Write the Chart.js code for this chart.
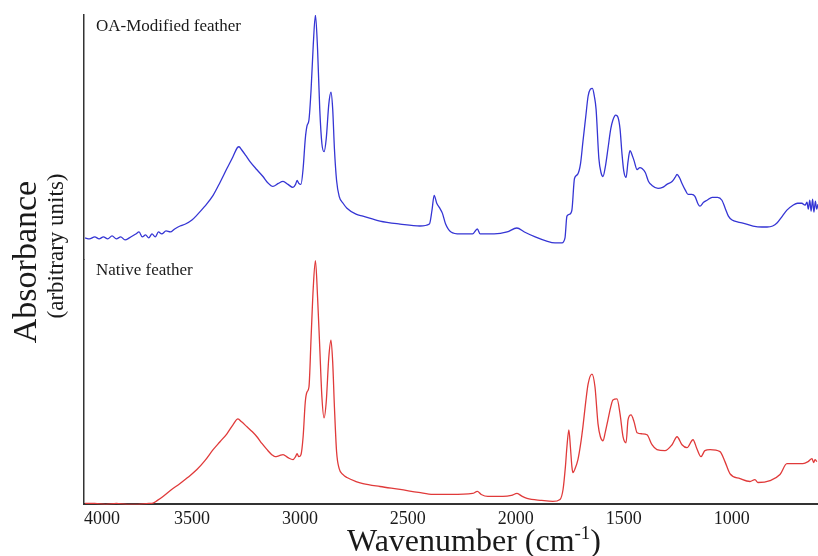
<!DOCTYPE html>
<html>
<head>
<meta charset="utf-8">
<title>FTIR spectra of feather</title>
<script src="https://cdn.jsdelivr.net/npm/chart.js@4.4.1/dist/chart.umd.min.js"></script>
<style>
  html, body { margin: 0; padding: 0; background: #fff; }
  #wrap { width: 818px; height: 556px; position: relative; }
</style>
</head>
<body>
<div id="wrap"><canvas id="ftirChart"></canvas></div>
<script>
// OA-modified feather, upper trace (wavenumber cm-1 / absorbance, arbitrary units)
const modifiedWn = [
  3995, 3975, 3950, 3930, 3910, 3890, 3870, 3850, 3830, 3810, 3790, 3760, 3745, 3730, 3715, 3700,
  3685, 3670, 3655, 3640, 3620, 3600, 3580, 3555, 3530, 3500, 3477, 3440, 3402, 3370, 3338, 3310,
  3290, 3282, 3270, 3250, 3231, 3200, 3171, 3150, 3125, 3100, 3078, 3055, 3032, 3020, 3013, 3005,
  2995, 2985, 2975, 2967, 2958, 2948, 2938, 2928, 2918, 2908, 2898, 2888, 2878, 2866, 2856, 2848,
  2840, 2830, 2818, 2800, 2782, 2740, 2708, 2629, 2536, 2444, 2400, 2388, 2378, 2366, 2352, 2340,
  2325, 2300, 2258, 2200, 2178, 2165, 2100, 2040, 1995, 1960, 1910, 1860, 1818, 1786, 1772, 1763,
  1750, 1740, 1728, 1714, 1700, 1689, 1676, 1665, 1655, 1645, 1636, 1628, 1615, 1604, 1596, 1585,
  1573, 1560, 1550, 1537, 1527, 1517, 1508, 1500, 1489, 1480, 1471, 1460, 1452, 1438, 1425, 1415,
  1400, 1385, 1369, 1341, 1320, 1300, 1276, 1262, 1253, 1242, 1230, 1214, 1202, 1185, 1170, 1155,
  1147, 1130, 1114, 1090, 1065, 1045, 1030, 1015, 998, 970, 948, 901, 860, 836, 810, 790,
  765, 744, 716, 695, 675, 660, 651, 645, 638, 632, 625, 619, 612, 606, 600
];
const modifiedAbs = [
  22, 21, 23, 21, 23, 21, 24, 21, 23, 20, 22, 26, 28, 23, 25, 22,
  26, 23, 28, 26, 29, 28, 31, 34, 36, 40, 45, 54, 65, 78, 92, 104,
  113, 114, 111, 105, 99, 91, 84, 78, 74, 77, 79, 76, 73, 76, 80, 77,
  76, 92, 122, 135, 141, 172, 217, 247, 212, 152, 117, 109, 122, 157, 169, 152,
  112, 80, 64, 57, 52, 46, 44, 39, 36, 34, 36, 50, 65, 57, 52, 47,
  36, 28, 26, 26, 31, 26, 26, 28, 32, 28, 23, 19, 17, 17, 22, 44,
  46, 50, 82, 86, 97, 119, 144, 165, 172, 173, 165, 152, 102, 87, 84, 94,
  112, 132, 141, 146, 144, 132, 107, 90, 83, 99, 110, 105, 100, 91, 93, 92,
  88, 79, 75, 72, 73, 76, 79, 83, 86, 83, 77, 70, 66, 66, 64, 56,
  54, 58, 60, 63, 63, 60, 52, 44, 40, 38, 37, 34, 33, 33, 34, 37,
  44, 50, 55, 57, 57, 55, 58, 51, 60, 49, 61, 48, 59, 51, 56
];

// Native feather, lower trace
const nativeWn = [
  3995, 3950, 3900, 3850, 3800, 3750, 3700, 3685, 3660, 3634, 3600, 3555, 3520, 3477, 3440, 3402,
  3370, 3338, 3310, 3287, 3270, 3245, 3220, 3199, 3175, 3152, 3130, 3115, 3095, 3078, 3055, 3032,
  3020, 3013, 3005, 2995, 2985, 2975, 2967, 2958, 2948, 2938, 2928, 2918, 2908, 2898, 2888, 2878,
  2866, 2856, 2848, 2840, 2830, 2818, 2800, 2782, 2740, 2708, 2629, 2536, 2450, 2383, 2300, 2200,
  2178, 2160, 2129, 2060, 2020, 1994, 1970, 1948, 1880, 1828, 1795, 1781, 1770, 1763, 1754, 1747,
  1740, 1735, 1725, 1712, 1700, 1689, 1676, 1665, 1647, 1633, 1619, 1608, 1596, 1585, 1573, 1560,
  1550, 1531, 1517, 1503, 1489, 1480, 1466, 1452, 1438, 1415, 1392, 1369, 1346, 1309, 1276, 1253,
  1230, 1207, 1179, 1161, 1142, 1124, 1100, 1054, 1031, 1008, 961, 915, 892, 878, 822, 776,
  744, 716, 670, 646, 628, 620, 614, 605
];
const nativeAbs = [
  1, 1, 0, 1, 0, 0, 1, 1, 4, 8, 14, 21, 27, 35, 44, 55,
  63, 71, 80, 86, 83, 78, 73, 68, 61, 55, 50, 48, 49, 50, 47, 45,
  48, 51, 48, 50, 68, 103, 113, 118, 168, 218, 245, 208, 158, 108, 87, 103,
  148, 165, 143, 98, 53, 36, 30, 27, 23, 21, 18, 15, 12, 10, 10, 11,
  13, 10, 8, 8, 9, 11, 8, 6, 4, 3, 5, 15, 38, 58, 75, 58,
  38, 32, 36, 45, 60, 78, 103, 121, 131, 118, 81, 68, 64, 73, 85, 98,
  105, 106, 91, 68, 62, 85, 90, 83, 72, 71, 70, 60, 55, 54, 60, 68,
  60, 57, 65, 56, 48, 54, 55, 53, 43, 31, 26, 23, 25, 22, 24, 30,
  41, 41, 41, 43, 46, 42, 45, 43
];

const wnTicks = [1000, 1500, 2000, 2500, 3000, 3500, 4000];
const wnMin = 600;
const wnMax = 4000;
const topMax = 247;
const bottomMax = 246;

const serif = '"Liberation Serif", "Times New Roman", serif';
const ink = '#1a1a1a';

function toPoints(xs, ys) {
  return xs.map((x, i) => ({ x: x, y: ys[i] }));
}

// titles and trace captions
const spectraText = {
  id: 'spectraText',
  afterDraw(chart) {
    const ctx = chart.ctx;
    const area = chart.chartArea;
    const yTop = chart.scales.yTop;
    const yBottom = chart.scales.yBottom;
    ctx.save();
    ctx.fillStyle = ink;
    ctx.textAlign = 'left';
    ctx.textBaseline = 'alphabetic';
    ctx.font = '17px ' + serif;
    ctx.fillText('OA-Modified feather', area.left + 12, yTop.top + 16);
    ctx.fillText('Native feather', area.left + 12, yBottom.top + 15);

    // y axis title, two lines of different size
    ctx.save();
    ctx.textAlign = 'center';
    ctx.textBaseline = 'middle';
    ctx.translate(27, 262);
    ctx.rotate(-Math.PI / 2);
    ctx.font = '34px ' + serif;
    ctx.fillText('Absorbance', 0, 0);
    ctx.restore();
    ctx.save();
    ctx.textAlign = 'center';
    ctx.textBaseline = 'middle';
    ctx.translate(57, 246);
    ctx.rotate(-Math.PI / 2);
    ctx.font = '23px ' + serif;
    ctx.fillText('(arbitrary units)', 0, 0);
    ctx.restore();

    // x axis title with superscript
    const main = 'Wavenumber (cm';
    const sup = '-1';
    const tail = ')';
    ctx.font = '32px ' + serif;
    const wMain = ctx.measureText(main).width;
    const wTail = ctx.measureText(tail).width;
    ctx.font = '19px ' + serif;
    const wSup = ctx.measureText(sup).width;
    let x = 474 - (wMain + wSup + wTail) / 2;
    const base = 551;
    ctx.font = '32px ' + serif;
    ctx.fillText(main, x, base);
    x += wMain;
    ctx.font = '19px ' + serif;
    ctx.fillText(sup, x, base - 12);
    x += wSup;
    ctx.font = '32px ' + serif;
    ctx.fillText(tail, x, base);
    ctx.restore();
  }
};

const ctx = document.getElementById('ftirChart').getContext('2d');
new Chart(ctx, {
  type: 'line',
  data: {
    datasets: [
      {
        label: 'OA-Modified feather',
        data: toPoints(modifiedWn, modifiedAbs),
        yAxisID: 'yTop',
        borderColor: '#3535d4',
        borderWidth: 1.3,
        pointRadius: 0,
        cubicInterpolationMode: 'monotone',
        fill: false
      },
      {
        label: 'Native feather',
        data: toPoints(nativeWn, nativeAbs),
        yAxisID: 'yBottom',
        borderColor: '#e03a3a',
        borderWidth: 1.3,
        pointRadius: 0,
        cubicInterpolationMode: 'monotone',
        fill: false
      }
    ]
  },
  options: {
    responsive: true,
    maintainAspectRatio: false,
    animation: false,
    layout: { padding: { left: 84, top: 15, right: 0, bottom: 22 } },
    plugins: {
      legend: { display: false },
      tooltip: { enabled: false }
    },
    scales: {
      x: {
        type: 'linear',
        reverse: true,
        min: wnMin,
        max: wnMax,
        afterBuildTicks: (scale) => {
          scale.ticks = [wnMin].concat(wnTicks).map(v => ({ value: v }));
        },
        grid: { display: false, drawTicks: false },
        border: { display: true, color: '#333', width: 2 },
        ticks: {
          autoSkip: false,
          maxRotation: 0,
          align: 'inner',
          padding: 4,
          color: ink,
          font: { family: serif, size: 18 },
          callback: (v) => (wnTicks.includes(v) ? String(v) : '')
        }
      },
      // stacked scales are placed top-down in definition order
      yBottom: {
        type: 'linear',
        position: 'left',
        stack: 'spectra',
        stackWeight: 1,
        min: 0,
        max: bottomMax,
        grid: { display: false, drawTicks: false },
        border: { display: true, color: '#333', width: 1.5 },
        ticks: { display: false }
      },
      yTop: {
        type: 'linear',
        position: 'left',
        stack: 'spectra',
        stackWeight: 1,
        min: 0,
        max: topMax,
        grid: { display: false, drawTicks: false },
        border: { display: true, color: '#333', width: 1.5 },
        ticks: { display: false }
      }
    }
  },
  plugins: [spectraText]
});
</script>
</body>
</html>
